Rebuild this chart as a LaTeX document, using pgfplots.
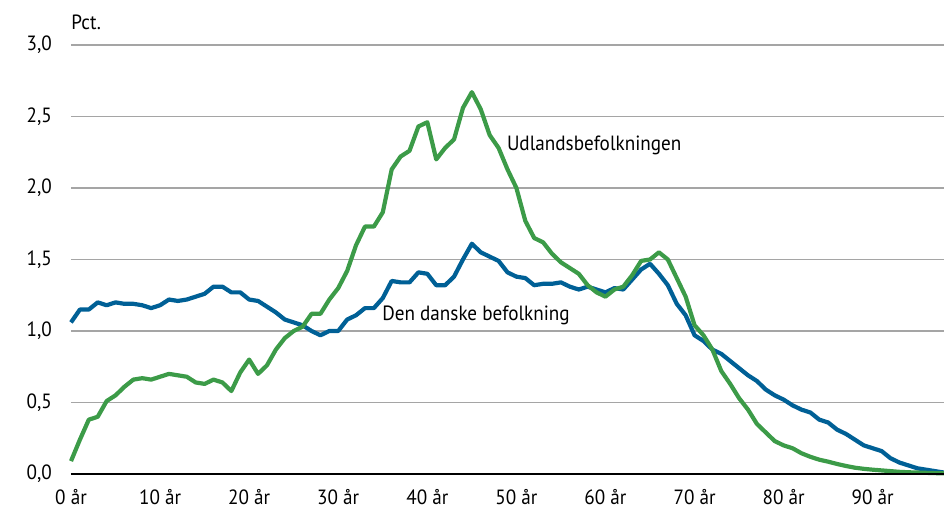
\documentclass[border=0pt]{standalone}
\usepackage{pgfplots}
\pgfplotsset{compat=1.18}
\usepackage{pgfplotstable}
\usepackage{fontspec}
\setmainfont[FakeStretch=0.93]{PT Sans}
\definecolor{dkblue}{RGB}{0,96,150}
\definecolor{dkgreen}{RGB}{60,155,72}
\definecolor{gridgray}{RGB}{165,165,165}
\pgfplotstableread{
age dk
0 1.06
1 1.15
2 1.15
3 1.20
4 1.18
5 1.20
6 1.19
7 1.19
8 1.18
9 1.16
10 1.18
11 1.22
12 1.21
13 1.22
14 1.24
15 1.26
16 1.31
17 1.31
18 1.27
19 1.27
20 1.22
21 1.21
22 1.17
23 1.13
24 1.08
25 1.06
26 1.04
27 1.00
28 0.97
29 1.00
30 1.00
31 1.08
32 1.11
33 1.16
34 1.16
35 1.23
36 1.35
37 1.34
38 1.34
39 1.41
40 1.40
41 1.32
42 1.32
43 1.38
44 1.50
45 1.61
46 1.55
47 1.52
48 1.49
49 1.41
50 1.38
51 1.37
52 1.32
53 1.33
54 1.33
55 1.34
56 1.31
57 1.29
58 1.31
59 1.29
60 1.27
61 1.30
62 1.29
63 1.36
64 1.43
65 1.47
66 1.40
67 1.32
68 1.19
69 1.11
70 0.97
71 0.93
72 0.87
73 0.84
74 0.79
75 0.74
76 0.69
77 0.65
78 0.59
79 0.55
80 0.52
81 0.48
82 0.45
83 0.43
84 0.38
85 0.36
86 0.31
87 0.28
88 0.24
89 0.20
90 0.18
91 0.16
92 0.11
93 0.08
94 0.06
95 0.04
96 0.03
97 0.02
98 0.01
}\danske
\pgfplotstableread{
age ud
0 0.09
1 0.24
2 0.38
3 0.40
4 0.51
5 0.55
6 0.61
7 0.66
8 0.67
9 0.66
10 0.68
11 0.70
12 0.69
13 0.68
14 0.64
15 0.63
16 0.66
17 0.64
18 0.58
19 0.71
20 0.80
21 0.70
22 0.76
23 0.87
24 0.95
25 1.00
26 1.03
27 1.12
28 1.12
29 1.22
30 1.30
31 1.42
32 1.60
33 1.73
34 1.73
35 1.83
36 2.13
37 2.22
38 2.26
39 2.43
40 2.46
41 2.20
42 2.28
43 2.34
44 2.56
45 2.67
46 2.55
47 2.37
48 2.28
49 2.13
50 2.00
51 1.77
52 1.65
53 1.62
54 1.54
55 1.48
56 1.44
57 1.40
58 1.32
59 1.27
60 1.24
61 1.29
62 1.31
63 1.39
64 1.49
65 1.50
66 1.55
67 1.50
68 1.37
69 1.24
70 1.04
71 0.97
72 0.87
73 0.72
74 0.63
75 0.53
76 0.45
77 0.35
78 0.29
79 0.23
80 0.20
81 0.18
82 0.145
83 0.12
84 0.10
85 0.086
86 0.07
87 0.056
88 0.044
89 0.036
90 0.03
91 0.025
92 0.02
93 0.015
94 0.012
95 0.01
96 0.008
97 0.006
98 0.005
}\udland
\begin{document}
\begin{tikzpicture}
\useasboundingbox (-35.5pt,-19pt) rectangle (436.5pt,237pt);
\begin{axis}[
  at={(0,0)}, anchor=south west,
  scale only axis, width=436.5pt, height=214.5pt,
  xmin=0, xmax=98, ymin=0, ymax=3,
  xtick={0,10,...,90},
  xticklabels={0 år,10 år,20 år,30 år,40 år,50 år,60 år,70 år,80 år,90 år},
  ytick={0,0.5,...,3},
  /pgf/number format/use comma,
  /pgf/number format/fixed,
  /pgf/number format/fixed zerofill,
  /pgf/number format/precision=1,
  /pgf/number format/assume math mode=true,
  yticklabel style={font=\fontsize{10.3}{12}\selectfont, anchor=east, xshift=-6pt},
  xticklabel style={font=\fontsize{10.3}{12}\selectfont, anchor=north, yshift=-4pt},
  axis line style={draw=none},
  tick style={draw=none},
  ymajorgrids, grid style={gridgray, line width=0.8pt},
  clip=false,
]
\addplot[dkblue, line width=2.1pt, line join=round] table[x=age,y=dk] {\danske};
\addplot[dkgreen, line width=2.1pt, line join=round] table[x=age,y=ud] {\udland};
\draw[black, line width=1.3pt] (axis cs:0,0) -- (axis cs:98,0);
\node[anchor=west, inner sep=0pt, font=\fontsize{10.3}{12}\selectfont] at (axis cs:0,3.156) {Pct.};
\node[anchor=west, inner sep=0pt, font=\fontsize{10.3}{12}\selectfont] at (axis cs:48.9,2.30) {Udlandsbefolkningen};
\node[anchor=west, inner sep=0pt, font=\fontsize{10.3}{12}\selectfont] at (axis cs:34.9,1.107) {Den danske befolkning};
\end{axis}
\end{tikzpicture}
\end{document}
